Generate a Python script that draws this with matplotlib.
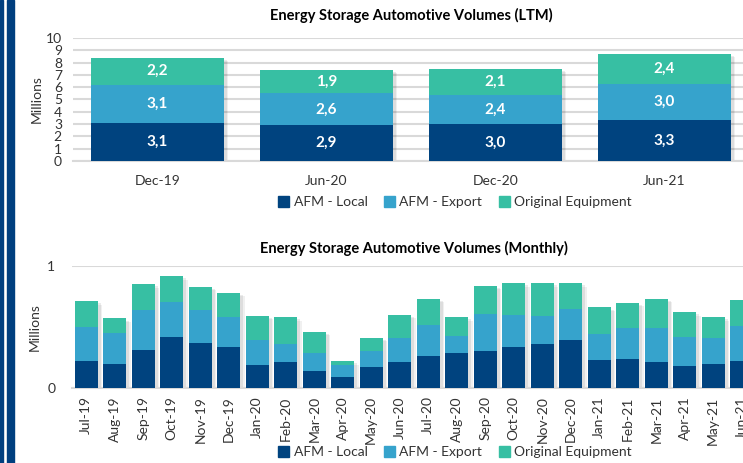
import matplotlib.pyplot as plt
import matplotlib.patheffects as pe
from matplotlib.patches import Rectangle, Patch
import numpy as np

plt.rcParams["font.family"] = ["Lato", "DejaVu Sans"]

# LTM data (millions)
ltm_periods = ["Dec-19", "Jun-20", "Dec-20", "Jun-21"]
ltm_local = [3.1, 2.9, 3.0, 3.3]
ltm_export = [3.1, 2.6, 2.4, 3.0]
ltm_oe = [2.2, 1.9, 2.1, 2.4]

# Monthly data (millions)
months = [
    "Jul-19", "Aug-19", "Sep-19", "Oct-19", "Nov-19", "Dec-19",
    "Jan-20", "Feb-20", "Mar-20", "Apr-20", "May-20", "Jun-20",
    "Jul-20", "Aug-20", "Sep-20", "Oct-20", "Nov-20", "Dec-20",
    "Jan-21", "Feb-21", "Mar-21", "Apr-21", "May-21", "Jun-21",
]
monthly_local = [0.22, 0.20, 0.31, 0.415, 0.37, 0.34,
                 0.19, 0.21, 0.14, 0.09, 0.17, 0.21,
                 0.26, 0.29, 0.30, 0.34, 0.36, 0.39,
                 0.23, 0.24, 0.21, 0.18, 0.20, 0.22]
monthly_export = [0.28, 0.25, 0.33, 0.29, 0.27, 0.24,
                  0.20, 0.15, 0.15, 0.10, 0.13, 0.20,
                  0.26, 0.14, 0.31, 0.26, 0.23, 0.26,
                  0.21, 0.25, 0.28, 0.24, 0.21, 0.29]
monthly_oe = [0.21, 0.12, 0.21, 0.21, 0.19, 0.20,
              0.20, 0.22, 0.17, 0.03, 0.11, 0.19,
              0.21, 0.15, 0.23, 0.26, 0.27, 0.21,
              0.22, 0.21, 0.24, 0.20, 0.17, 0.21]

series_names = ["AFM - Local", "AFM - Export", "Original Equipment"]
colors = ["#00437F", "#36A3CC", "#37BFA3"]
text_color = "#333333"
grid_color = "#D9D9D9"

W, H = 743, 463
fig = plt.figure(figsize=(W / 100, H / 100), dpi=100)

# left border stripes
fig.patches.append(Rectangle((0, 0), 2.7 / W, 1, transform=fig.transFigure,
                             color="#003F7F", zorder=0))
fig.patches.append(Rectangle((6.7 / W, 0), 7.3 / W, 1, transform=fig.transFigure,
                             color="#003F7F", zorder=0))

# soft shadow only, drawn behind the whole stack
shadow = [
    pe.SimplePatchShadow(offset=(3, -2.5), shadow_rgbFace="black", alpha=0.06),
    pe.SimplePatchShadow(offset=(2, -1.5), shadow_rgbFace="black", alpha=0.08),
]


def stacked(ax, values, width):
    x = np.arange(len(values[0]))
    total = np.sum(values, axis=0)
    back = ax.bar(x, total, width, color="white", zorder=2)
    for b in back:
        b.set_path_effects(shadow)
    bottom = np.zeros(len(x))
    containers = []
    for vals, color in zip(values, colors):
        bars = ax.bar(x, vals, width, bottom=bottom, color=color, zorder=3)
        containers.append(bars)
        bottom += np.array(vals)
    return x, containers


def style(ax):
    for s in ["top", "right", "left"]:
        ax.spines[s].set_visible(False)
    ax.spines["bottom"].set_color(grid_color)
    ax.spines["bottom"].set_linewidth(1.5)
    ax.tick_params(length=0, colors=text_color, labelsize=10)
    ax.yaxis.grid(True, color=grid_color, linewidth=1.5, zorder=0)
    ax.set_axisbelow(True)


# top chart: LTM
ax1 = fig.add_axes([73 / W, 1 - 161 / H, 676 / W, 123 / H])
x1, cont1 = stacked(ax1, [ltm_local, ltm_export, ltm_oe], 0.79)
ax1.set_xlim(-0.5, len(ltm_periods) - 0.5)
ax1.set_ylim(0, 10)
ax1.set_yticks(range(0, 11))
ax1.set_xticks(x1)
ax1.set_xticklabels(ltm_periods)
ax1.tick_params(axis="x", pad=10)
ax1.tick_params(axis="y", pad=8)
style(ax1)
ax1.set_ylabel("Millions", fontsize=10, color=text_color, labelpad=2)
ax1.set_title("Energy Storage Automotive Volumes (LTM)", fontsize=10.5,
              fontweight="bold", color="black", pad=13)
for bars in cont1:
    ax1.bar_label(bars, labels=[f"{b.get_height():.1f}".replace(".", ",") for b in bars],
                  label_type="center", color="white", fontweight="bold", fontsize=11)

# bottom chart: monthly
ax2 = fig.add_axes([72 / W, 1 - 388 / H, 684 / W, 122 / H])
x2, _ = stacked(ax2, [monthly_local, monthly_export, monthly_oe], 0.82)
ax2.set_xlim(-0.5, len(months) - 0.5)
ax2.set_ylim(0, 1)
ax2.set_yticks([0, 1])
ax2.set_xticks(x2)
ax2.set_xticklabels(months, rotation=90)
ax2.tick_params(axis="x", pad=6)
ax2.tick_params(axis="y", pad=12)
style(ax2)
ax2.set_ylabel("Millions", fontsize=10, color=text_color, labelpad=5)
ax2.set_title("Energy Storage Automotive Volumes (Monthly)", fontsize=10.5,
              fontweight="bold", color="black", pad=9)

handles = [Patch(color=c) for c in colors]
for y in [1 - 202 / H, 1 - 452 / H]:
    fig.legend(handles, series_names, loc="center", bbox_to_anchor=(455 / W, y),
               ncol=3, frameon=False, fontsize=10, handlelength=0.8,
               handleheight=0.8, handletextpad=0.3, columnspacing=1.2,
               labelcolor=text_color, borderpad=0)

fig.savefig("out.png", dpi=100)
